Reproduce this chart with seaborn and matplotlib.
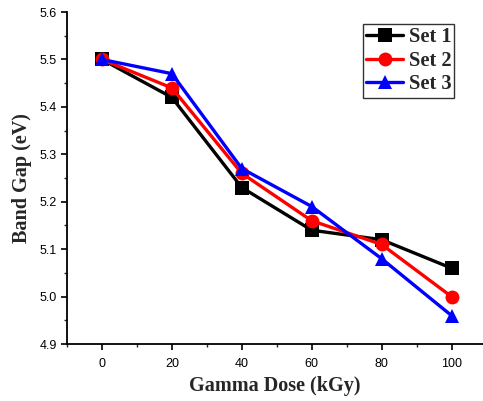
import matplotlib
matplotlib.use("Agg")
import matplotlib.pyplot as plt
import seaborn as sns
import pandas as pd
from matplotlib.ticker import MultipleLocator

dose = [0, 20, 40, 60, 80, 100]
set1 = [5.50, 5.42, 5.23, 5.14, 5.12, 5.06]
set2 = [5.50, 5.44, 5.26, 5.16, 5.11, 5.00]
set3 = [5.50, 5.47, 5.27, 5.19, 5.08, 4.96]
labels = ["Set 1", "Set 2", "Set 3"]

df = pd.concat([
    pd.DataFrame({"dose": dose, "gap": s, "set": lab})
    for s, lab in zip([set1, set2, set3], labels)
])

sns.set_style("ticks")
plt.rcParams['font.family'] = ['Liberation Sans', 'DejaVu Sans']

fig = plt.figure(figsize=(4.83, 4.01), dpi=100)
ax = fig.add_axes([0.1387, 0.142, 0.8613, 0.828])

colors = ["black", "red", "blue"]
markers = ["s", "o", "^"]
sns.lineplot(data=df, x="dose", y="gap", hue="set", style="set",
             palette=colors, markers=markers, dashes=False,
             linewidth=2.4, markersize=10, markeredgewidth=0, ax=ax)

ax.set_xlim(-10, 109)
ax.set_ylim(4.9, 5.6)
ax.xaxis.set_major_locator(MultipleLocator(20))
ax.xaxis.set_minor_locator(MultipleLocator(10))
ax.yaxis.set_major_locator(MultipleLocator(0.1))
ax.yaxis.set_minor_locator(MultipleLocator(0.05))
ax.yaxis.set_major_formatter(matplotlib.ticker.FormatStrFormatter('%.1f'))
ax.tick_params(axis='both', which='major', direction='out', length=4, width=1.2,
               labelsize=9, colors='black')
ax.tick_params(axis='x', which='major', pad=6)
ax.tick_params(axis='both', which='minor', direction='out', length=2.5, width=1.0)
for s in ["top", "right"]:
    ax.spines[s].set_visible(False)
for s in ["left", "bottom"]:
    ax.spines[s].set_linewidth(1.3)
    ax.spines[s].set_color("black")

serif = {'family': ['Liberation Serif', 'DejaVu Serif'], 'weight': 'bold', 'size': 14.5}
ax.set_xlabel("Gamma Dose (kGy)", fontdict=serif, labelpad=4)
ax.set_ylabel("Band Gap (eV)", fontdict=serif, labelpad=5)

leg = ax.legend(loc='upper right', bbox_to_anchor=(0.931, 0.964), frameon=True,
                borderaxespad=0, fancybox=False, edgecolor='black', handlelength=1.8,
                handletextpad=0.25, borderpad=0.15, labelspacing=0.18,
                prop={'family': ['Liberation Serif', 'DejaVu Serif'],
                      'weight': 'bold', 'size': 14.8})
leg.get_frame().set_linewidth(1.0)

fig.savefig("out.png", dpi=100)
